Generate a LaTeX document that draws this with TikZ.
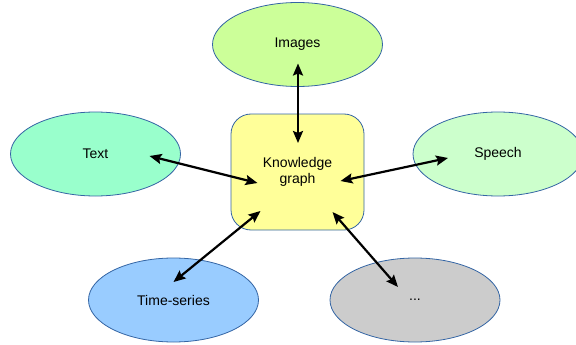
\documentclass[tikz,border=0pt]{standalone}
\usepackage{fontspec}
\setmainfont{Liberation Sans}
\usetikzlibrary{shapes.geometric,arrows.meta,calc}

\definecolor{rim}{HTML}{3465A4}
\definecolor{imgfill}{HTML}{CCFF99}
\definecolor{txtfill}{HTML}{99FFCC}
\definecolor{spfill}{HTML}{CCFFCC}
\definecolor{tsfill}{HTML}{99CCFF}
\definecolor{etcfill}{HTML}{CCCCCC}
\definecolor{kgfill}{HTML}{FFFF99}

\tikzset{
	source/.style={ellipse,draw=rim,line width=0.8pt,minimum width=170pt,minimum height=84pt,inner sep=0pt,font=\fontsize{14}{16}\selectfont},
	hub/.style={draw=rim,line width=0.8pt,fill=kgfill,rounded corners=20pt,minimum width=133pt,minimum height=116pt,align=center,font=\fontsize{14}{16}\selectfont},
	link/.style={line width=2.2pt,{Stealth[length=12pt,width=10pt,inset=2pt]}-{Stealth[length=12pt,width=10pt,inset=2pt]}}
}

\begin{document}
\begin{tikzpicture}[x=1pt,y=-1pt]
	\useasboundingbox (0,0) rectangle (576,345);
	% the five sources round the hub
	\node[source,fill=imgfill] (img) at (297.5,44.5) {Images};
	\node[source,fill=txtfill] (txt) at (95.5,154) {Text};
	\node[source,fill=spfill] (sp) at (498,154) {Speech};
	\node[source,fill=tsfill] (ts) at (173.5,300) {Time-series};
	\node[source,fill=etcfill] (etc) at (415,300) {...};
	\node[hub] (kg) at (297.5,172) {Knowledge\\graph};
	% two-way links
	\draw[link] ($(img)+(0.5,19)$) -- ($(kg)+(0.5,-29)$);
	\draw[link] ($(txt)+(54,2)$) -- ($(kg)+(-40,11)$);
	\draw[link] ($(sp)+(-50,4)$) -- ($(kg)+(43,9)$);
	\draw[link] ($(ts)+(0,-18)$) -- ($(kg)+(-37,39)$);
	\draw[link] ($(etc)+(-17,-13)$) -- ($(kg)+(35,40)$);
\end{tikzpicture}
\end{document}
